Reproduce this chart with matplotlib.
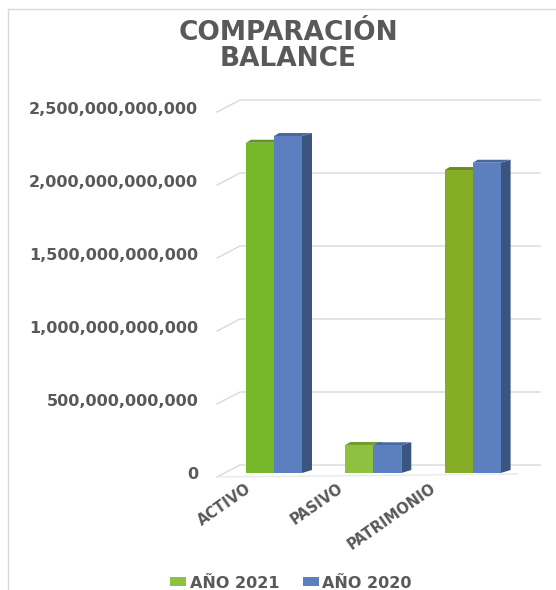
import matplotlib
matplotlib.use("Agg")
import matplotlib.pyplot as plt
import numpy as np
from matplotlib.patches import Polygon, Patch
from matplotlib.lines import Line2D
from matplotlib.ticker import StrMethodFormatter
from matplotlib.transforms import blended_transform_factory

plt.rcParams["font.family"] = ["DejaVu Sans"]

categories = ["ACTIVO", "PASIVO", "PATRIMONIO"]
series_names = ["AÑO 2021", "AÑO 2020"]
values_2021 = [2.262e12, 0.192e12, 2.075e12]
values_2020 = [2.308e12, 0.190e12, 2.125e12]
y_ticks = [0, 500e9, 1000e9, 1500e9, 2000e9, 2500e9]

# styles
green_front = ["#77b82b", "#8dc13f", "#86ad26"]
green_top = ["#5f9521", "#6f9e2c", "#6a8a1d"]
blue_front = "#5b7fbf"
blue_side = "#3a5580"
blue_top = "#4868a4"
text_col = "#595959"
grid_col = "#d9d9d9"

W, H = 556, 590
fig = plt.figure(figsize=(W / 100, H / 100), dpi=100)

# axes in pixels: front plane x 217..540, y=0 at 473, top tick at 108
ax_l, ax_r, ax_b, ax_t = 217, 540, 473, 108
ax = fig.add_axes([ax_l / W, 1 - ax_b / H, (ax_r - ax_l) / W, (ax_b - ax_t) / H])
ymax = y_ticks[-1]
ax.set_ylim(0, ymax)
cat_px = 99.3
x0_px = 274 - ax_l
ax.set_xlim(-x0_px / cat_px, (ax_r - ax_l - x0_px) / cat_px)
for s in ax.spines.values():
    s.set_visible(False)
ax.set_xticks([])
ax.set_yticks(y_ticks)
ax.yaxis.set_major_formatter(StrMethodFormatter("{x:,.0f}"))
ax.tick_params(axis="y", length=0, pad=13.5, labelsize=11.5, labelcolor=text_col)
for lb in ax.get_yticklabels():
    lb.set_fontweight("bold")

py = ymax / (ax_b - ax_t)  # data per pixel (y)
px = 1.0 / cat_px          # data per pixel (x)

# perspective gridlines (back wall)
tr = blended_transform_factory(ax.transAxes, ax.transData)
back_x = (240 - ax_l) / (ax_r - ax_l)
for v in y_ticks:
    ax.plot([0, back_x, 1], [v - 4 * py, v + 8 * py, v + 8 * py], color=grid_col,
            lw=1, transform=tr, clip_on=False, zorder=0)
ax.plot([0, 0.93], [-4 * py, -1 * py], color="#ececec", lw=1.2, transform=tr,
        clip_on=False, zorder=0)

x = np.arange(len(categories))
bw = 28 * px
dx, dy = 10 * px, 3 * py

for i, xc in enumerate(x):
    # green bar
    gl, gr, gv = xc - bw, xc, values_2021[i]
    ax.add_patch(Polygon([(gl, gv), (gr, gv), (gr + dx, gv + dy), (gl + dx * 0.5, gv + dy)],
                         closed=True, facecolor=green_top[i], edgecolor="none", zorder=2))
    ax.bar(xc - bw / 2, gv, bw, color=green_front[i], edgecolor="none", zorder=3)
    # blue bar
    bl, br, bv = xc, xc + bw, values_2020[i]
    ax.add_patch(Polygon([(br, 0), (br, bv), (br + dx, bv + dy), (br + dx, dy)],
                         closed=True, facecolor=blue_side, edgecolor="none", zorder=4))
    ax.add_patch(Polygon([(bl, bv), (br, bv), (br + dx, bv + dy), (bl + dx * 0.5, bv + dy)],
                         closed=True, facecolor=blue_top, edgecolor="none", zorder=4))
    ax.bar(xc + bw / 2, bv, bw, color=blue_front, edgecolor="none", zorder=5)

# category labels
for i, name in enumerate(categories):
    ax.text(x[i] - 0.25 - 0.07 * i, -14 * py, name, rotation=35, rotation_mode="anchor",
            ha="right", va="center", fontsize=10.5, fontweight="bold", color=text_col,
            clip_on=False)

# title
fig.text(288 / W, 1 - 46 / H, "COMPARACIÓN\nBALANCE", ha="center", va="center",
         fontsize=19, fontweight="bold", color=text_col, linespacing=1.02)

# legend
handles = [Patch(facecolor="#8dc13f", edgecolor="none"),
           Patch(facecolor=blue_front, edgecolor="none")]
fig.legend(handles, series_names, loc="center", bbox_to_anchor=(291 / W, 1 - 583 / H),
           ncol=2, frameon=False, handlelength=1.0, handleheight=0.5, handletextpad=0.2,
           columnspacing=1.5, prop={"weight": "bold", "size": 11.5}, labelcolor=text_col)

# chart border (left and top)
fig.add_artist(Line2D([8 / W, 8 / W], [0, 1 - 9 / H], color=grid_col, lw=1))
fig.add_artist(Line2D([8 / W, 1], [1 - 9 / H, 1 - 9 / H], color=grid_col, lw=1))

fig.savefig("out.png", dpi=100)
